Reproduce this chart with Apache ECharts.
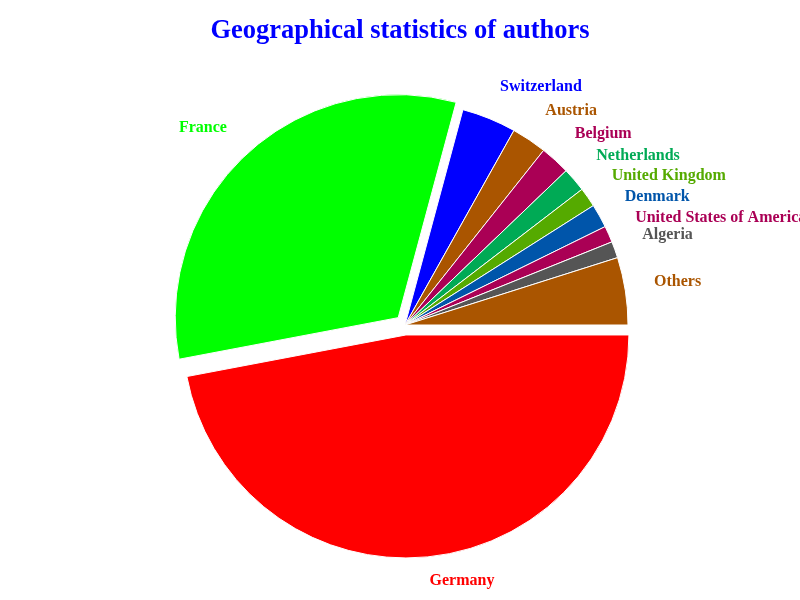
<!DOCTYPE html>
<html>
<head>
<meta charset="utf-8">
<script src="https://cdn.jsdelivr.net/npm/echarts@6/dist/echarts.min.js"></script>
<style>html,body{margin:0;padding:0;background:#fff}#main{width:800px;height:600px}</style>
</head>
<body>
<div id="main"></div>
<script>
var countries = ['Germany','France','Switzerland','Austria','Belgium','Netherlands','United Kingdom','Denmark','United States of America','Algeria','Others'];
var shares = [169.4, 115.9, 14.2, 9.2, 7.8, 6.3, 5.1, 6.2, 4.3, 4.3, 17.6];
var colors = ['#ff0000','#00ff00','#0000ff','#aa5500','#aa0055','#00aa55','#55aa00','#0055aa','#aa0055','#555555','#aa5500'];
var exploded = ['Germany','France'];

var data = countries.map(function(n, i){
  return {
    name: n, value: shares[i], selected: exploded.indexOf(n) >= 0,
    itemStyle: { color: colors[i] },
    label: { color: colors[i] }
  };
});

var chart = echarts.init(document.getElementById('main'), null, {renderer:'canvas'});
chart.setOption({
  animation: false,
  backgroundColor: '#ffffff',
  title: {
    text: 'Geographical statistics of authors',
    left: 'center', top: 13,
    textStyle: { color: '#0000ff', fontFamily: 'Liberation Serif', fontWeight: 'bold', fontSize: 26.5 }
  },
  series: [{
    type: 'pie',
    center: [405, 325],
    radius: 223,
    startAngle: 0,
    clockwise: true,
    selectedMode: 'multiple',
    selectedOffset: 10,
    avoidLabelOverlap: false,
    emphasis: { disabled: true },
    itemStyle: { borderColor: '#ffffff', borderWidth: 1 },
    label: {
      show: true, position: 'outside', formatter: '{b}',
      fontFamily: 'Liberation Serif', fontWeight: 'bold', fontSize: 16,
      distanceToLabelLine: 0, overflow: 'none'
    },
    labelLine: { show: false, length: 29, length2: 0 },
    labelLayout: { dy: -5 },
    data: data
  }]
});
</script>
</body>
</html>
